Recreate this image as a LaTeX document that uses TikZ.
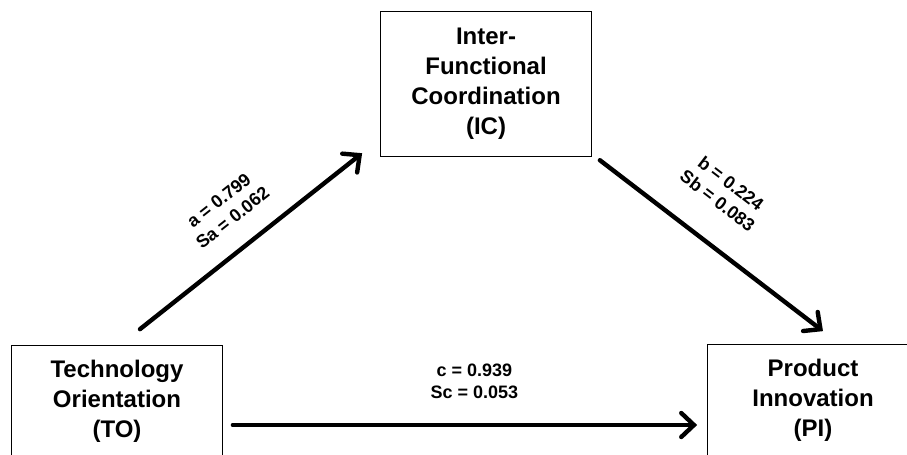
\documentclass[tikz,border=0pt]{standalone}
\usepackage{fontspec}
\setmainfont{Liberation Sans}
\usetikzlibrary{arrows.meta}

\begin{document}
\begin{tikzpicture}[
    x=0.75pt, y=-0.75pt,
    var/.style={rectangle, draw, line width=0.8pt, minimum width=158pt, align=center, font=\fontsize{18}{22.5}\selectfont\bfseries},
    coef/.style={align=center, font=\fontsize{13.5}{16.5}\selectfont\bfseries, inner sep=1pt},
    arrow/.style={-{Straight Barb[length=9.5pt, width=18pt, line cap=round]}, line width=3.3pt, line cap=round},
]
\useasboundingbox (0,0) rectangle (907,454);
\clip (0,0) rectangle (907,454);

% Nodes
\node[var, minimum height=109pt] (ic) at (486,84) {Inter-\\Functional\\Coordination\\(IC)};
\node[var, minimum height=83pt] (to) at (117,401) {Technology\\Orientation\\(TO)};
\node[var, minimum height=83pt] (pi) at (813,400) {Product\\Innovation\\(PI)};

% Arrows
\draw[arrow] ([shift={(23,-16)}]to.north) -- node[coef, pos=0.5, sloped, above=15pt] {a = 0.799\\Sa = 0.062} ([shift={(-18,-4)}]ic.south west);
\draw[arrow] ([shift={(8,3)}]ic.south east) -- node[coef, pos=0.42, sloped, above=22pt] {b = 0.224\\Sb = 0.083} ([shift={(10,-13)}]pi.north);
\draw[arrow] ([shift={(10,24)}]to.east) -- node[coef, pos=0.52, above=17pt] {c = 0.939\\Sc = 0.053} ([shift={(-10,25)}]pi.west);

\end{tikzpicture}
\end{document}
